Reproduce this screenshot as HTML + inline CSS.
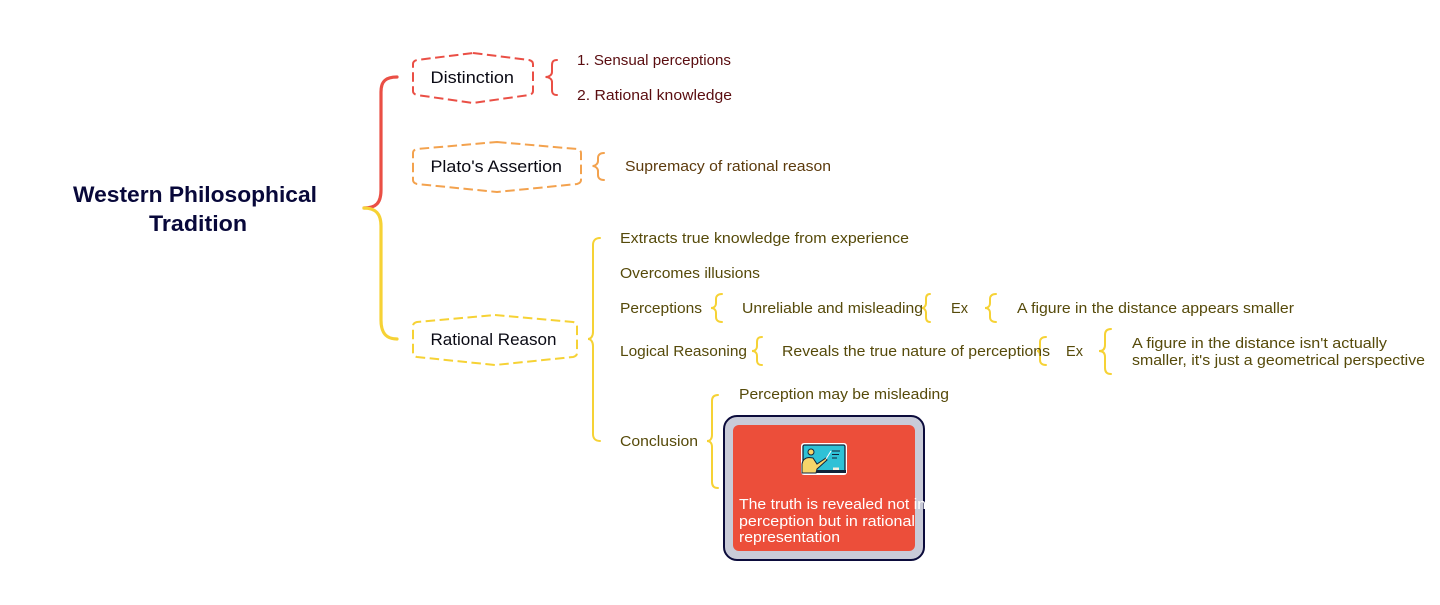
<!DOCTYPE html>
<html>
<head>
<meta charset="utf-8">
<style>
html,body{margin:0;padding:0;background:#fff;width:1440px;height:605px;overflow:hidden}
svg{display:block}
text{font-family:"Liberation Sans",sans-serif;font-size:15px}
.n{font-size:16.5px;fill:#0a0a14}
.r{fill:#5a0d10}
.o{fill:#5c3a0c}
.y{fill:#564a0a}
.w{fill:#fff}
.t{font-size:22px;font-weight:bold;fill:#08083a}
.b{fill:none;stroke-width:2;stroke-linecap:round}
.h{fill:#fff;stroke-width:2;stroke-dasharray:9.500 4.500;stroke-linejoin:round}
</style>
</head>
<body>
<svg width="1440" height="605" viewBox="0 0 1440 605" xmlns="http://www.w3.org/2000/svg">
<rect width="1440" height="605" fill="#fff"/>

<!-- main connectors -->
<path d="M397 77 C386 77 381 81 381 92 L381 190 C381 203 376 208 364 208" fill="none" stroke="#ea4f45" stroke-width="3.200" stroke-linecap="round"/>
<path d="M364 208 C376 208 381 214 381 226 L381 320 C381 333 386 339 397 339" fill="none" stroke="#f6d235" stroke-width="3.200" stroke-linecap="round"/>

<!-- nodes -->
<path class="h" stroke="#ea4f45" d="M473 53 L529 60 Q533 61 533 64 L533 91 Q533 94 529 95 L473 103 L417 95 Q413 94 413 91 L413 64 Q413 61 417 60 Z"/>
<path class="h" stroke="#f3a24e" d="M497 142 L577 149 Q581 150 581 153 L581 180 Q581 183 577 184 L497 192 L417 184 Q413 183 413 180 L413 153 Q413 150 417 149 Z"/>
<path class="h" stroke="#f6d235" d="M495 315 L573 322 Q577 323 577 326 L577 353 Q577 356 573 357 L495 365 L417 357 Q413 356 413 353 L413 326 Q413 323 417 322 Z"/>

<!-- braces -->
<g class="b" stroke="#ea4f45">
<path d="M557 60 C553 60 552 62 552 65 L552 72 C552 75 549 77 545.500 77 C549 77 552 79 552 82 L552 90 C552 93 553 95 557 95"/>
</g>
<g class="b" stroke="#f3a24e">
<path d="M604 153 C600 153 598 155 598 158 L598 161 C598 164 595 166 592.500 166 C595 166 598 168 598 171 L598 175 C598 178 600 180 604 180"/>
</g>
<g class="b" stroke="#f6d235">
<path d="M600 238 C595 238 593 241 593 245 L593 332 C593 336 591 339 588 339 C591 339 593 342 593 346 L593 434 C593 438 595 441 600 441"/>
<path d="M722 294 C718 294 716 296 716 299 L716 303 C716 306 714 308 711 308 C714 308 716 310 716 313 L716 317 C716 320 718 322 722 322"/>
<path d="M930 294 C927 294 926 296 926 299 L926 303 C926 306 924 308 922 308 C924 308 926 310 926 313 L926 317 C926 320 927 322 930 322"/>
<path d="M996 294 C992 294 990 296 990 299 L990 303 C990 306 988 308 985 308 C988 308 990 310 990 313 L990 317 C990 320 992 322 996 322"/>
<path d="M762 337 C758 337 757 339 757 342 L757 346 C757 349 755 351 752 351 C755 351 757 353 757 356 L757 360 C757 363 758 365 762 365"/>
<path d="M1046 337 C1042 337 1040 339 1040 342 L1040 346 C1040 349 1039 351 1037 351 C1039 351 1040 353 1040 356 L1040 360 C1040 363 1042 365 1046 365"/>
<path d="M1111 329 C1107 329 1105 331 1105 335 L1105 345 C1105 349 1103 351 1099 351 C1103 351 1105 353 1105 357 L1105 368 C1105 372 1107 374 1111 374"/>
<path d="M718 395 C714 395 712 397 712 401 L712 435 C712 439 710 441 707 441 C710 441 712 443 712 447 L712 482 C712 486 714 488 718 488"/>
</g>

<!-- title -->
<text class="t" x="73" y="202" textLength="244" lengthAdjust="spacingAndGlyphs">Western Philosophical</text>
<text class="t" x="149" y="231" textLength="98" lengthAdjust="spacingAndGlyphs">Tradition</text>

<!-- node labels -->
<text class="n" x="430.500" y="83" textLength="83.500" lengthAdjust="spacingAndGlyphs">Distinction</text>
<text class="n" x="430.500" y="172" textLength="131.500" lengthAdjust="spacingAndGlyphs">Plato's Assertion</text>
<text class="n" x="430.500" y="345" textLength="126" lengthAdjust="spacingAndGlyphs">Rational Reason</text>

<!-- leaf labels -->
<text class="r" x="577" y="65" textLength="154" lengthAdjust="spacingAndGlyphs">1. Sensual perceptions</text>
<text class="r" x="577" y="100" textLength="155" lengthAdjust="spacingAndGlyphs">2. Rational knowledge</text>
<text class="o" x="625" y="171" textLength="206" lengthAdjust="spacingAndGlyphs">Supremacy of rational reason</text>

<text class="y" x="620" y="243" textLength="289" lengthAdjust="spacingAndGlyphs">Extracts true knowledge from experience</text>
<text class="y" x="620" y="278" textLength="140" lengthAdjust="spacingAndGlyphs">Overcomes illusions</text>
<text class="y" x="620" y="313" textLength="82" lengthAdjust="spacingAndGlyphs">Perceptions</text>
<text class="y" x="742" y="313" textLength="181" lengthAdjust="spacingAndGlyphs">Unreliable and misleading</text>
<text class="y" x="951" y="313" textLength="17" lengthAdjust="spacingAndGlyphs">Ex</text>
<text class="y" x="1017" y="313" textLength="277" lengthAdjust="spacingAndGlyphs">A figure in the distance appears smaller</text>
<text class="y" x="620" y="356" textLength="127" lengthAdjust="spacingAndGlyphs">Logical Reasoning</text>
<text class="y" x="782" y="356" textLength="268" lengthAdjust="spacingAndGlyphs">Reveals the true nature of perceptions</text>
<text class="y" x="1066" y="356" textLength="17" lengthAdjust="spacingAndGlyphs">Ex</text>
<text class="y" x="1132" y="348" textLength="255" lengthAdjust="spacingAndGlyphs">A figure in the distance isn't actually</text>
<text class="y" x="1132" y="365" textLength="293" lengthAdjust="spacingAndGlyphs">smaller, it's just a geometrical perspective</text>
<text class="y" x="739" y="399" textLength="210" lengthAdjust="spacingAndGlyphs">Perception may be misleading</text>
<text class="y" x="620" y="446" textLength="78" lengthAdjust="spacingAndGlyphs">Conclusion</text>

<!-- card -->
<rect x="724" y="416" width="200" height="144" rx="13" fill="#c9cbd8" stroke="#0b0b3b" stroke-width="2"/>
<rect x="733" y="425" width="182" height="126" rx="6" fill="#ec4e3a"/>

<!-- icon -->
<g>
<rect x="801" y="443" width="46" height="32" rx="3" fill="#fff"/>
<rect x="803" y="445" width="42" height="27" rx="1.500" fill="#2fc1d6" stroke="#12233a" stroke-width="1.300"/>
<rect x="815" y="470" width="31" height="3" fill="#12233a"/>
<rect x="833" y="467.500" width="6" height="2.500" fill="#f2f0e0"/>
<circle cx="811" cy="452" r="3" fill="#f7d56a" stroke="#12233a" stroke-width="1"/>
<path d="M802 473 L802 464 Q803 458 809 457.500 L813 458 L817 464 L826 458 L827 460 L817 469 L816 473 Z" fill="#f7d56a" stroke="#12233a" stroke-width="1"/>
<path d="M826 459 L831 451" stroke="#fff" stroke-width="1"/>
<path d="M832 451 H840 M832 454.500 H839 M832 458 H837" stroke="#12233a" stroke-width="1"/>
</g>

<text class="w" x="739" y="509" textLength="187" lengthAdjust="spacingAndGlyphs">The truth is revealed not in</text>
<text class="w" x="739" y="526" textLength="176" lengthAdjust="spacingAndGlyphs">perception but in rational</text>
<text class="w" x="739" y="542" textLength="101" lengthAdjust="spacingAndGlyphs">representation</text>
</svg>
</body>
</html>
